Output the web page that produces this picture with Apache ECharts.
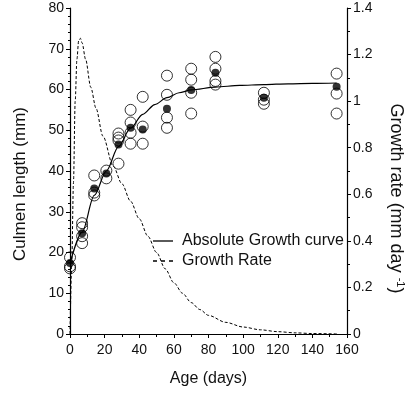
<!DOCTYPE html>
<html>
<head>
<meta charset="utf-8">
<script src="https://cdn.jsdelivr.net/npm/echarts@6/dist/echarts.min.js"></script>
<style>
html,body{margin:0;padding:0;background:#fff;}
#chart{width:414px;height:395px;}
</style>
</head>
<body>
<div id="chart"></div>
<script>
// Individual observations (open circles)
const obsAge = [0,0,0, 7,7,7,7, 14,14,14, 21,21, 28,28,28,28, 35,35,35,35, 42,42,42, 56,56,56,56, 70,70,70,70, 84,84,84,84, 112,112,112, 154,154,154];
const obsLength = [18.8,16.6,16.1, 27.2,26.2,24.0,22.3, 38.9,34.7,34.0, 40.1,38.2, 49.2,48.2,47.5,41.8, 55.0,51.9,49.4,46.7, 58.2,50.9,46.7, 63.4,58.7,53.1,50.6, 65.1,62.4,59.2,54.1, 68.0,65.1,62.1,61.2, 59.2,57.5,56.5, 63.9,59.0,54.1];
// Means (filled dots)
const meanAge = [0,7,14,21,28,35,42,56,70,84,112,154];
const meanLength = [17.4,24.7,35.7,39.4,46.5,50.6,50.2,55.3,59.9,64.1,58.0,60.7];
// Absolute growth curve
const curveAge = [0,7,14,21,28,35,42,49,56,63,70,84,98,112,126,140,154];
const curveLength = [17.3,25.0,34.0,40.0,46.0,50.5,53.9,56.3,58.0,59.2,59.9,60.6,61.0,61.2,61.4,61.5,61.6];
// Growth rate curve
const rateAge = [0,1,2,3,4,5,6,7,9,12,15,19,25,30,35,40,45,50,55,60,65,70,75,80,90,100,110,120,130,140,155];
const rateValue = [0.0,0.3,0.65,1.0,1.18,1.26,1.27,1.25,1.18,1.06,0.97,0.85,0.72,0.645,0.57,0.495,0.42,0.35,0.28,0.22,0.175,0.135,0.105,0.08,0.05,0.03,0.018,0.01,0.005,0.002,0.0];

const zip = (a, b) => a.map((v, i) => [v, b[i]]);
const FONT = 'Liberation Sans, Arial, sans-serif';
const solidIcon = 'path://M0,0L20,0L20,1.3L0,1.3Z';
const dashIcon = 'path://M0,0h4v1.3h-4Z M8,0h4v1.3h-4Z M16,0h4v1.3h-4Z';

const chart = echarts.init(document.getElementById('chart'), null, {renderer: 'canvas'});
chart.setOption({
  animation: false,
  backgroundColor: '#fff',
  grid: {left: 70, right: 67, top: 8, bottom: 61},
  legend: {
    data: [{name: 'Absolute Growth curve', icon: solidIcon}, {name: 'Growth Rate', icon: dashIcon}],
    orient: 'vertical',
    left: 153, top: 233, padding: 0,
    itemWidth: 20, itemHeight: 1.3, itemGap: 4,
    textStyle: {fontFamily: FONT, fontSize: 16, color: '#111', padding: [0, 0, 0, 4]}
  },
  xAxis: {
    type: 'value', min: 0, max: 160, interval: 20,
    name: 'Age (days)', nameLocation: 'middle', nameGap: 37,
    nameTextStyle: {fontFamily: FONT, fontSize: 16, color: '#111'},
    axisLine: {show: true, lineStyle: {color: '#000', width: 1.2}},
    axisTick: {show: true, inside: false, length: 4, lineStyle: {color: '#000'}},
    minorTick: {show: true, splitNumber: 2, length: 3, lineStyle: {color: '#000'}},
    splitLine: {show: false},
    axisLabel: {fontFamily: FONT, fontSize: 14, color: '#111', margin: 9}
  },
  yAxis: [{
    type: 'value', min: 0, max: 80, interval: 10, position: 'left',
    name: 'Culmen length (mm)', nameLocation: 'middle', nameGap: 41, nameRotate: 90,
    nameTextStyle: {fontFamily: FONT, fontSize: 17, color: '#111', padding: [0, 26, 0, 0]},
    axisLine: {show: true, lineStyle: {color: '#000', width: 1.2}},
    axisTick: {show: true, length: 4, lineStyle: {color: '#000'}},
    minorTick: {show: true, splitNumber: 5, length: 2, lineStyle: {color: '#000'}},
    splitLine: {show: false},
    axisLabel: {fontFamily: FONT, fontSize: 14, color: '#111', margin: 6}
  }, {
    type: 'value', min: 0, max: 1.4, interval: 0.2, position: 'right',
    name: '{a|Growth rate (mm day }{s|-1}{a|)}', nameLocation: 'middle', nameGap: 38, nameRotate: -90,
    nameTextStyle: {fontFamily: FONT, fontSize: 18, color: '#111', padding: [0, 0, 0, 55],
      rich: {a: {fontFamily: FONT, fontSize: 18, color: '#111'},
             s: {fontFamily: FONT, fontSize: 11, color: '#111', padding: [0, 0, 10, 0]}}},
    axisLine: {show: true, lineStyle: {color: '#000', width: 1.2}},
    axisTick: {show: true, length: 4, lineStyle: {color: '#000'}},
    minorTick: {show: true, splitNumber: 2, length: 3, lineStyle: {color: '#000'}},
    splitLine: {show: false},
    axisLabel: {fontFamily: FONT, fontSize: 14, color: '#111', margin: 6}
  }],
  series: [{
    name: 'Absolute Growth curve', type: 'line', yAxisIndex: 0,
    data: zip(curveAge, curveLength), smooth: 0.3, smoothMonotone: 'x',
    symbol: 'none', lineStyle: {color: '#000', width: 1.2}, itemStyle: {color: '#000'}, z: 3
  }, {
    name: 'Growth Rate', type: 'line', yAxisIndex: 1,
    data: zip(rateAge, rateValue), smooth: 0.3, smoothMonotone: 'x',
    symbol: 'none', lineStyle: {color: '#000', width: 1, type: [3, 2]}, itemStyle: {color: '#000'}, z: 3
  }, {
    name: 'Observed', type: 'scatter', yAxisIndex: 0,
    data: zip(obsAge, obsLength), symbol: 'circle', symbolSize: 11,
    itemStyle: {color: 'rgba(255,255,255,0)', borderColor: '#000', borderWidth: 1}, z: 4
  }, {
    name: 'Mean', type: 'scatter', yAxisIndex: 0,
    data: zip(meanAge, meanLength), symbol: 'circle', symbolSize: 8,
    itemStyle: {color: '#000'}, z: 5
  }]
});
</script>
</body>
</html>
